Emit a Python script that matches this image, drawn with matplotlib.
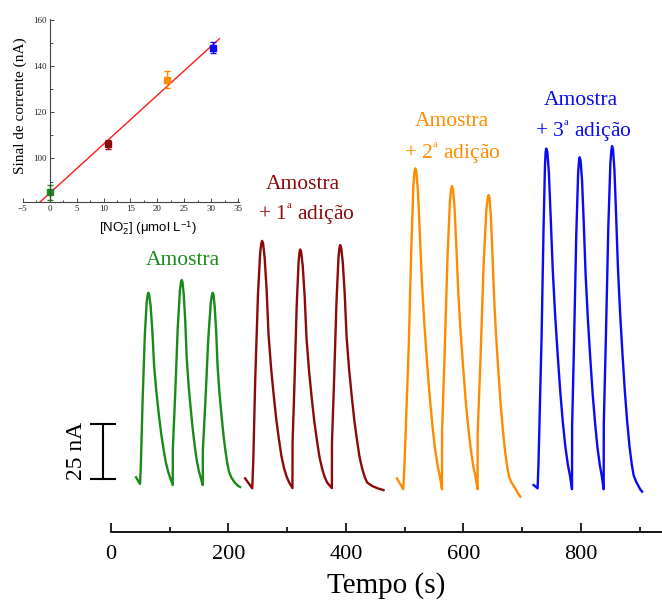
# FIA amperograms with calibration inset
import numpy as np
import matplotlib.pyplot as plt

plt.rcParams['font.family'] = ['Liberation Serif', 'DejaVu Serif']
plt.rcParams['mathtext.fontset'] = 'custom'
plt.rcParams['mathtext.rm'] = 'Liberation Serif'
plt.rcParams['mathtext.it'] = 'Liberation Serif:italic'
plt.rcParams['mathtext.sf'] = 'Liberation Sans'

# amperograms (time in s, current in nA above baseline)
t_amostra = [42.6, 49.4, 50.8, 53.7, 57.6, 60.7, 62.4, 63.5,
             65.0, 67.5, 70.4, 73.4, 77.4, 81.3, 85.3, 89.3, 93.2, 97.2, 101.1, 105.1,
             105.3, 109.1, 113.5, 117.3, 119.2, 120.4,
             121.7, 123.8, 126.4, 128.9, 132.3, 135.8, 139.2, 142.6, 146.0, 149.4, 152.8, 156.2,
             156.4, 160.6, 165.6, 169.9, 171.9, 173.3,
             174.5, 176.5, 179.0, 181.4, 184.6, 187.9, 191.1, 194.3, 197.6, 200.8,
             205.0, 211.0, 216.0, 219.8]
i_amostra = [3.5, 0.5, 8.7, 37.4, 67.9, 82.7, 86.1, 87.0,
             86.1, 80.9, 69.6, 53.9, 41.8, 32.2, 23.5, 16.5, 10.4, 6.1, 3.0, 0.0,
             16.7, 39.9, 70.5, 88.2, 91.9, 92.8,
             91.9, 86.3, 74.2, 57.5, 44.5, 34.3, 25.1, 17.6, 11.1, 6.5, 3.2, 0.0,
             15.7, 37.4, 66.1, 82.7, 86.1, 87.0,
             86.1, 80.9, 69.6, 53.9, 41.8, 32.2, 23.5, 16.5, 10.4, 6.1,
             3.3, 1.0, -0.3, -0.9]

t_ad1 = [228.3, 240.5, 242.2, 245.5, 250.2, 253.9, 255.9, 257.2,
         258.9, 261.6, 264.9, 268.1, 272.5, 276.9, 281.3, 285.7, 290.0, 294.5, 298.8, 303.2, 308.9,
         309.1, 312.3, 316.1, 319.4, 321.0, 322.0,
         323.7, 326.4, 329.7, 332.9, 337.3, 341.7, 346.1, 350.5, 354.8, 359.3, 363.6, 368.0, 376.0,
         376.2, 379.7, 383.8, 387.3, 389.0, 390.1,
         391.8, 394.5, 397.8, 401.0, 405.4, 409.8, 414.2, 418.6, 422.9, 427.4, 431.7, 436.1,
         445.0, 455.0, 463.9]
i_ad1 = [3.0, -1.5, 11.0, 47.5, 86.2, 105.0, 109.4, 110.5,
         109.4, 102.8, 88.4, 68.5, 53.0, 40.9, 29.8, 21.0, 13.3, 7.7, 3.9, 1.2, -1.4,
         19.2, 45.8, 81.0, 101.3, 105.5, 106.6,
         105.5, 99.1, 85.3, 66.1, 51.2, 39.4, 28.8, 20.3, 12.8, 7.5, 3.7, 1.1, -1.4,
         19.5, 46.7, 82.5, 103.2, 107.5, 108.6,
         107.5, 101.0, 86.9, 67.3, 52.1, 40.2, 29.3, 20.6, 13.0, 7.6, 3.8, 1.1,
         -0.5, -1.6, -2.3]

t_ad2 = [486.7, 497.5, 499.5, 503.6, 506.9, 511.4, 514.8, 516.7, 517.9,
         519.7, 522.5, 525.6, 529.3, 533.4, 537.9, 542.5, 547.0, 551.6, 556.1, 559.8, 563.4,
         563.6, 567.8, 572.8, 577.0, 579.0, 580.4,
         582.1, 584.8, 587.8, 591.3, 595.2, 599.6, 603.9, 608.3, 612.7, 617.0, 620.5, 624.0,
         624.2, 628.9, 634.3, 639.0, 641.3, 642.8,
         644.3, 646.6, 649.3, 652.3, 655.7, 659.5, 663.3, 667.1, 670.9, 674.7, 677.8,
         682.0, 688.0, 693.0, 696.8]
i_ad2 = [3.0, -1.9, 8.6, 38.7, 63.1, 108.9, 136.1, 141.9, 143.3,
         141.9, 133.3, 114.6, 91.7, 73.1, 55.9, 40.1, 27.2, 16.5, 8.6, 4.0, -1.9,
         24.4, 58.2, 102.8, 128.5, 133.9, 135.3,
         133.9, 125.8, 108.2, 86.6, 69.0, 52.8, 37.9, 25.7, 15.6, 8.1, 3.8, -1.9,
         23.6, 56.4, 99.7, 124.6, 129.9, 131.2,
         129.9, 122.0, 105.0, 84.0, 66.9, 51.2, 36.7, 24.9, 15.1, 7.9, 3.7,
         1.0, -1.5, -3.8, -5.3]

t_ad3 = [719.4, 726.2, 727.7, 730.6, 733.0, 736.3, 738.8, 739.9, 741.0,
         742.8, 745.4, 748.4, 752.0, 755.9, 760.3, 764.7, 769.0, 773.4, 777.8, 781.3, 784.8,
         785.0, 788.2, 792.0, 795.2, 796.8, 797.8,
         799.4, 801.9, 804.8, 808.0, 811.7, 815.8, 819.9, 824.0, 828.1, 832.2, 835.4, 838.7,
         838.9, 842.4, 846.6, 850.1, 851.9, 853.0,
         854.6, 857.0, 859.8, 863.0, 866.6, 870.6, 874.6, 878.6, 882.6, 886.6, 889.8,
         894.0, 898.0, 901.0, 904.1]
i_ad3 = [0.0, -1.5, 9.1, 41.1, 67.0, 115.7, 144.7, 150.8, 152.3,
         150.8, 141.6, 121.8, 97.5, 77.7, 59.4, 42.6, 28.9, 17.5, 9.1, 4.3, -1.9,
         26.7, 63.8, 112.7, 140.9, 146.8, 148.3,
         146.8, 137.9, 118.6, 94.9, 75.6, 57.8, 41.5, 28.2, 17.1, 8.9, 4.2, -1.9,
         27.6, 66.0, 116.6, 145.7, 151.9, 153.4,
         151.9, 142.7, 122.7, 98.2, 78.2, 59.8, 43.0, 29.1, 17.6, 9.2, 4.3,
         1.5, -0.5, -2.0, -3.0]

# calibration (inset)
conc = [0.0, 10.9, 21.7, 30.4]
sinal = [85.3, 106.1, 134.2, 148.0]
erro = [3.3, 2.0, 3.5, 2.4]

cores = ['#1a8a1a', '#8b0a0a', '#ff8c00', '#0a0af5']

fig = plt.figure(figsize=(6.62, 6.02), dpi=100)
ax = fig.add_axes([111 / 662, 1 - 532.3 / 602, 551 / 662, 532.3 / 602])
ax.patch.set_alpha(0)

for t, i, c in zip([t_amostra, t_ad1, t_ad2, t_ad3],
                   [i_amostra, i_ad1, i_ad2, i_ad3], cores):
    ax.plot(t, i, color=c, lw=1.7, solid_joinstyle='round')

ax.set_xlim(0, 938)
ax.set_ylim(-21.4, 219.5)
for s in ['left', 'top', 'right']:
    ax.spines[s].set_visible(False)
ax.spines['bottom'].set_linewidth(1.3)
ax.set_yticks([])
ax.set_xticks([0, 200, 400, 600, 800])
ax.set_xticks([100, 300, 500, 700, 900], minor=True)
ax.tick_params(axis='x', which='major', direction='in', length=6.5, width=1.2,
               labelsize=16, pad=9)
ax.tick_params(axis='x', which='minor', direction='in', length=3.5, width=1.2)
ax.set_xlabel('Tempo (s)', fontsize=21, labelpad=6)

# 25 nA scale bar
ax.plot([-14.1, -14.1], [2.6, 27.6], color='k', lw=1.5, clip_on=False)
ax.plot([-34.5, 6.3], [2.6, 2.6], color='k', lw=1.5, clip_on=False)
ax.plot([-34.5, 6.3], [27.6, 27.6], color='k', lw=1.5, clip_on=False)
ax.text(-58.4, 15.2, '25 nA', rotation=90, fontsize=17, ha='center', va='center')

# labels
sup = r'$^{{}^{\mathrm{a}}}$'
ax.text(121.8, 101.8, 'Amostra', color=cores[0], fontsize=15.5, ha='center', va='center')
ax.text(327.1, 136.2, 'Amostra', color=cores[1], fontsize=15.5, ha='center', va='center')
ax.text(332.2, 122.6, '+ 1' + sup + ' adição', color=cores[1], fontsize=15.5,
        ha='center', va='center')
ax.text(580.4, 164.3, 'Amostra', color=cores[2], fontsize=15.5, ha='center', va='center')
ax.text(581.8, 150.2, '+ 2' + sup + ' adição', color=cores[2], fontsize=15.5,
        ha='center', va='center')
ax.text(799.8, 174.2, 'Amostra', color=cores[3], fontsize=15.5, ha='center', va='center')
ax.text(805.0, 160.2, '+ 3' + sup + ' adição', color=cores[3], fontsize=15.5,
        ha='center', va='center')

# inset: calibration curve
axi = fig.add_axes([22.7 / 662, 1 - 202.3 / 602, 216.6 / 662, 183 / 602])
axi.patch.set_alpha(0)
coef = np.polyfit(conc, sinal, 1)
xf = np.array([-2.8, 31.5])
axi.plot(xf, np.polyval(coef, xf), color='#ff1a1a', lw=1.0)
for x, y, e, c in zip(conc, sinal, erro, cores):
    axi.errorbar(x, y, yerr=e, fmt='s', color=c, ms=4.5, capsize=2, elinewidth=1,
                 capthick=1)
axi.set_xlim(-5, 35.2)
axi.set_ylim(81, 160.3)
axi.set_xticks(range(-5, 40, 5))
axi.set_xticks(np.arange(-2.5, 35, 5), minor=True)
axi.set_yticks([100, 120, 140, 160])
axi.set_yticks([90, 110, 130, 150], minor=True)
for s in ['top', 'right']:
    axi.spines[s].set_visible(False)
for s in ['left', 'bottom']:
    axi.spines[s].set_color('#444444')
    axi.spines[s].set_linewidth(0.8)
axi.spines['left'].set_position(('data', 0))
axi.tick_params(which='both', direction='in', colors='#444444', labelsize=6.5,
                labelcolor='#222222', pad=2)
axi.tick_params(which='major', length=3, width=0.7)
axi.tick_params(which='minor', length=1.8, width=0.7)
axi.set_ylabel('Sinal de corrente (nA)', fontsize=11)
axi.yaxis.set_label_coords(0.02, 0.53)
axi.set_xlabel(r'[NO$_{\mathsf{2}}^{\mathsf{-}}$] ($\mathsf{\mu}$mol L$^{\mathsf{-1}}$)',
               fontsize=9.5, family='Liberation Sans')
axi.xaxis.set_label_coords(0.58, -0.095)

fig.savefig('out.png', dpi=100)
